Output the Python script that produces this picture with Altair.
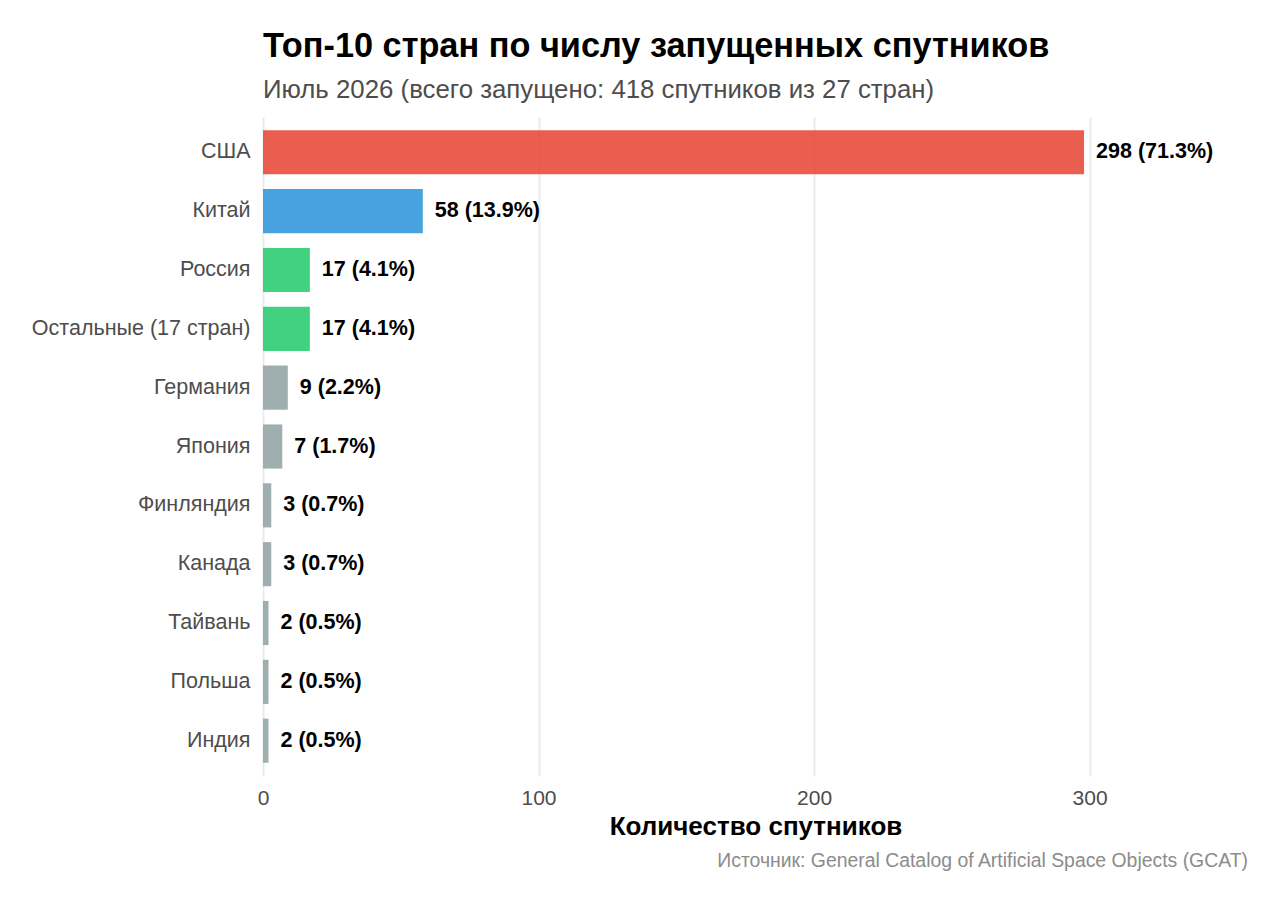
import altair as alt
import pandas as pd

countries = ["США", "Китай", "Россия", "Остальные (17 стран)", "Германия", "Япония",
             "Финляндия", "Канада", "Тайвань", "Польша", "Индия"]
counts = [298, 58, 17, 17, 9, 7, 3, 3, 2, 2, 2]
percents = [71.3, 13.9, 4.1, 4.1, 2.2, 1.7, 0.7, 0.7, 0.5, 0.5, 0.5]
groups = ["top1", "top2", "top3", "top3", "other", "other", "other", "other", "other", "other", "other"]
group_names = ["top1", "top2", "top3", "other"]
group_colors = ["#E74C3C", "#3498DB", "#2ECC71", "#95A5A6"]
x_ticks = [0, 100, 200, 300]

df = pd.DataFrame({
    "country": countries,
    "count": counts,
    "pct": percents,
    "group": groups,
})
df["label"] = [f"{c} ({p:.1f}%)" for c, p in zip(counts, percents)]

FONT = "Liberation Sans"
W, H = 985, 659

y_enc = alt.Y("country:N", sort=countries, title=None,
              scale=alt.Scale(paddingInner=0.25, paddingOuter=0.225),
              axis=alt.Axis(labelFontSize=21.5, labelColor="#4d4d4d", labelFont=FONT,
                            ticks=False, domain=False, grid=False, labelPadding=13,
                            labelLimit=0))
x_enc = alt.X("count:Q", title="Количество спутников",
              scale=alt.Scale(domain=[0, 357.5], nice=False, zero=True),
              axis=alt.Axis(values=x_ticks, labelFontSize=21, labelColor="#4d4d4d",
                            labelFont=FONT, titleFont=FONT, titleFontSize=26,
                            titleFontWeight="bold", titleColor="#000000", labelFlush=False,
                            ticks=False, domain=False, grid=True, gridColor="#ebebeb",
                            gridWidth=2, labelPadding=11, titlePadding=5))

bars = alt.Chart(df).mark_bar(opacity=0.9).encode(
    y=y_enc,
    x=x_enc,
    color=alt.Color("group:N", scale=alt.Scale(domain=group_names, range=group_colors), legend=None),
)

labels = alt.Chart(df).mark_text(align="left", baseline="middle", dx=12, fontSize=21.5,
                                 fontWeight="bold", font=FONT, color="#000000").encode(
    y=alt.Y("country:N", sort=countries),
    x="count:Q",
    text="label:N",
)

caption = alt.Chart(pd.DataFrame({"t": ["Источник: General Catalog of Artificial Space Objects (GCAT)"]})).mark_text(
    align="right", baseline="middle", fontSize=19.4, font=FONT, color="#8c8c8c"
).encode(x=alt.value(W), y=alt.value(H + 85), text="t:N")

chart = alt.layer(bars, labels, caption).properties(
    width=W, height=H,
    background="white",
    title=alt.TitleParams(
        text="Топ-10 стран по числу запущенных спутников",
        subtitle="Июль 2026 (всего запущено: 418 спутников из 27 стран)",
        anchor="start", frame="group", font=FONT, fontSize=34.3, fontWeight="bold", color="#000000",
        subtitleFont=FONT, subtitleFontSize=25.8, subtitleColor="#4d4d4d",
        subtitlePadding=14, offset=14,
    ),
    autosize=alt.AutoSizeParams(type="none"),
    padding={"left": 255, "top": 109, "right": 24, "bottom": 110},
).configure_view(strokeWidth=0, stroke="transparent")

chart.save("out.html", embed_options={"renderer": "svg", "actions": False})
